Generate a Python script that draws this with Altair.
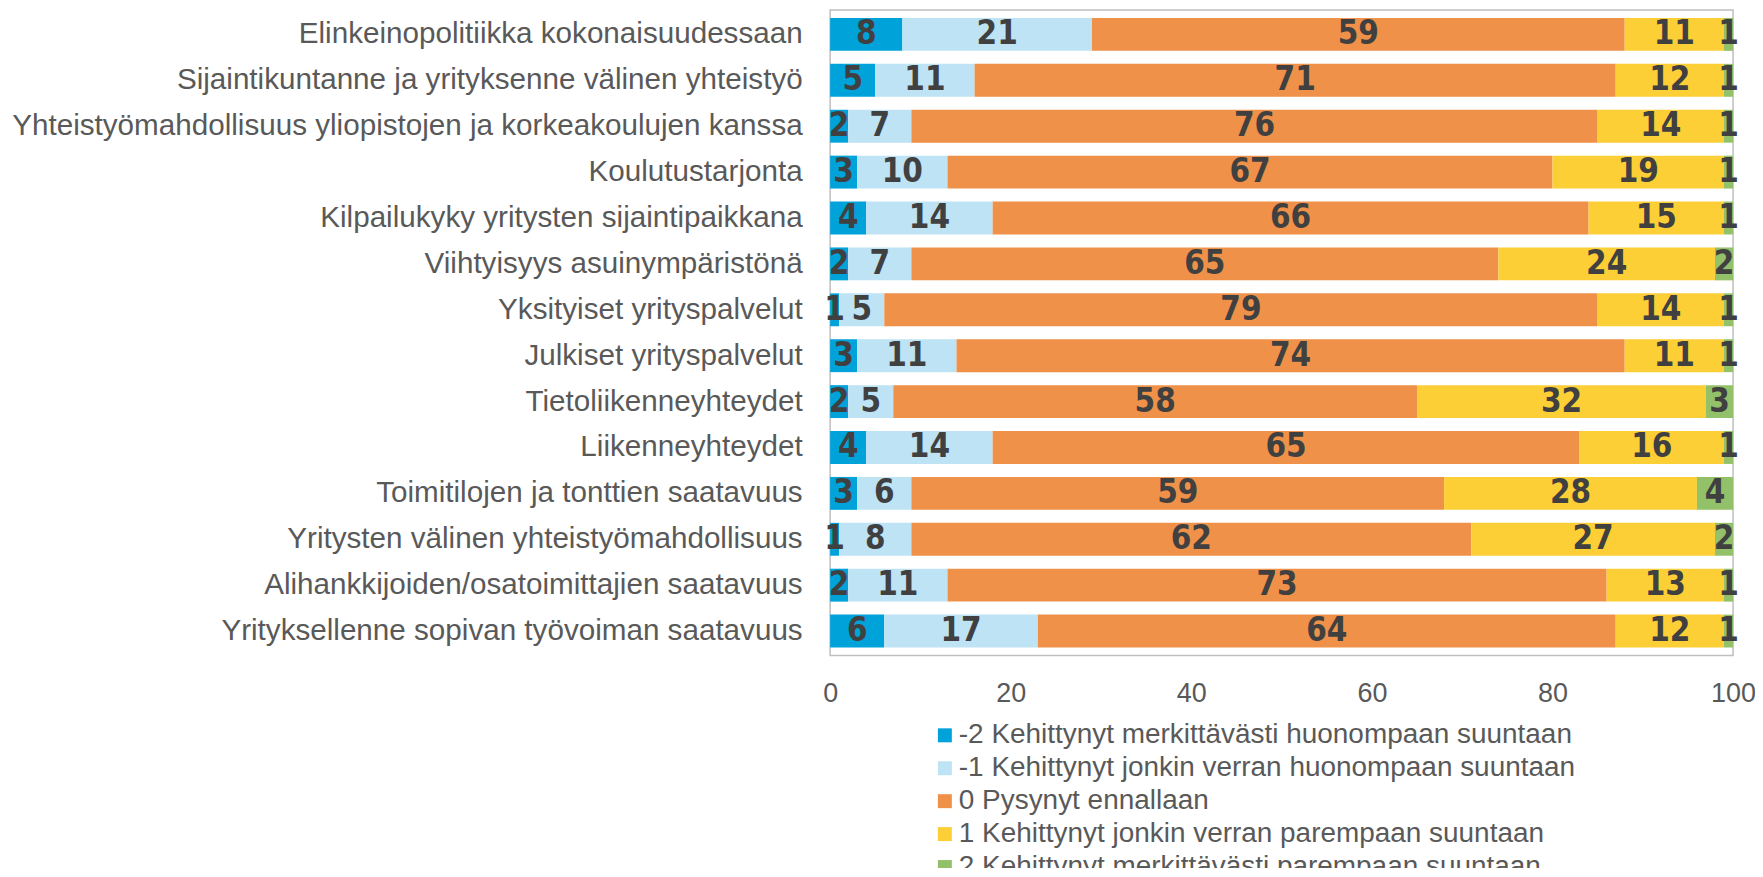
import altair as alt
import pandas as pd

categories = [
    "Elinkeinopolitiikka kokonaisuudessaan",
    "Sijaintikuntanne ja yrityksenne välinen yhteistyö",
    "Yhteistyömahdollisuus yliopistojen ja korkeakoulujen kanssa",
    "Koulutustarjonta",
    "Kilpailukyky yritysten sijaintipaikkana",
    "Viihtyisyys asuinympäristönä",
    "Yksityiset yrityspalvelut",
    "Julkiset yrityspalvelut",
    "Tietoliikenneyhteydet",
    "Liikenneyhteydet",
    "Toimitilojen ja tonttien saatavuus",
    "Yritysten välinen yhteistyömahdollisuus",
    "Alihankkijoiden/osatoimittajien saatavuus",
    "Yrityksellenne sopivan työvoiman saatavuus",
]

series_names = [
    "-2 Kehittynyt merkittävästi huonompaan suuntaan",
    "-1 Kehittynyt jonkin verran huonompaan suuntaan",
    "0 Pysynyt ennallaan",
    "1 Kehittynyt jonkin verran parempaan suuntaan",
    "2 Kehittynyt merkittävästi parempaan suuntaan",
]

s_m2 = [8, 5, 2, 3, 4, 2, 1, 3, 2, 4, 3, 1, 2, 6]
s_m1 = [21, 11, 7, 10, 14, 7, 5, 11, 5, 14, 6, 8, 11, 17]
s_0 = [59, 71, 76, 67, 66, 65, 79, 74, 58, 65, 59, 62, 73, 64]
s_p1 = [11, 12, 14, 19, 15, 24, 14, 11, 32, 16, 28, 27, 13, 12]
s_p2 = [1, 1, 1, 1, 1, 2, 1, 1, 3, 1, 4, 2, 1, 1]

colors = ["#00A2DA", "#BEE3F5", "#F0914A", "#FDCF36", "#93C16A"]

rows = []
for si, (name, vals) in enumerate(zip(series_names, [s_m2, s_m1, s_0, s_p1, s_p2])):
    for ci, cat in enumerate(categories):
        rows.append({"cat": cat, "series": name, "order": si, "value": vals[ci]})
df = pd.DataFrame(rows)

FONT = "Liberation Sans"
NUMFONT = "Liberation Sans Narrow, DejaVu Sans Condensed, Liberation Sans"

base = alt.Chart(df).transform_stack(
    stack="value", groupby=["cat"], as_=["x0", "x1"],
    sort=[alt.SortField("order", order="ascending")]
).transform_calculate(mid="(datum.x0 + datum.x1) / 2")

yenc = alt.Y("cat:N", sort=categories,
             scale=alt.Scale(paddingInner=0.283, paddingOuter=0.174),
             axis=alt.Axis(title=None, domain=False, ticks=False, labelFontSize=29.7,
                           labelColor="#595959", labelFont=FONT, labelLimit=1000,
                           labelPadding=28))

bars = base.mark_bar().encode(
    x=alt.X("x0:Q", scale=alt.Scale(domain=[0, 100], nice=False),
            axis=alt.Axis(title=None, values=[0, 20, 40, 60, 80, 100], grid=False,
                          domain=False, ticks=False, labelFontSize=27,
                          labelColor="#595959", labelFont=FONT, labelPadding=25,
                          labelFlush=False, labelOverlap=False)),
    x2="x1:Q",
    y=yenc,
    color=alt.Color("series:N", sort=series_names,
                    scale=alt.Scale(domain=series_names, range=colors),
                    legend=alt.Legend(title=None, orient="none", legendX=101, legendY=713,
                                      symbolType="square", symbolSize=196,
                                      symbolStrokeWidth=0, labelFontSize=28,
                                      labelFont=FONT, labelColor="#595959",
                                      rowPadding=5, padding=0, labelOffset=0,
                                      labelLimit=1000)),
    order=alt.Order("order:Q"),
)

labels = base.mark_text(fontSize=33, fontWeight="bold", color="#404040", font=NUMFONT,
                        baseline="middle", align="center").encode(
    x=alt.X("mid:Q"),
    y=alt.Y("cat:N", sort=categories),
    text=alt.Text("value:Q"),
)

chart = alt.layer(bars, labels).properties(
    width=905, height=647,
    autosize=alt.AutoSizeParams(type="none"),
    padding={"left": 824, "top": 1, "right": 22, "bottom": 212},
).configure_view(stroke="#BFBFBF", strokeWidth=1.5)

chart.save("out.html", embed_options={"renderer": "svg", "actions": False})
